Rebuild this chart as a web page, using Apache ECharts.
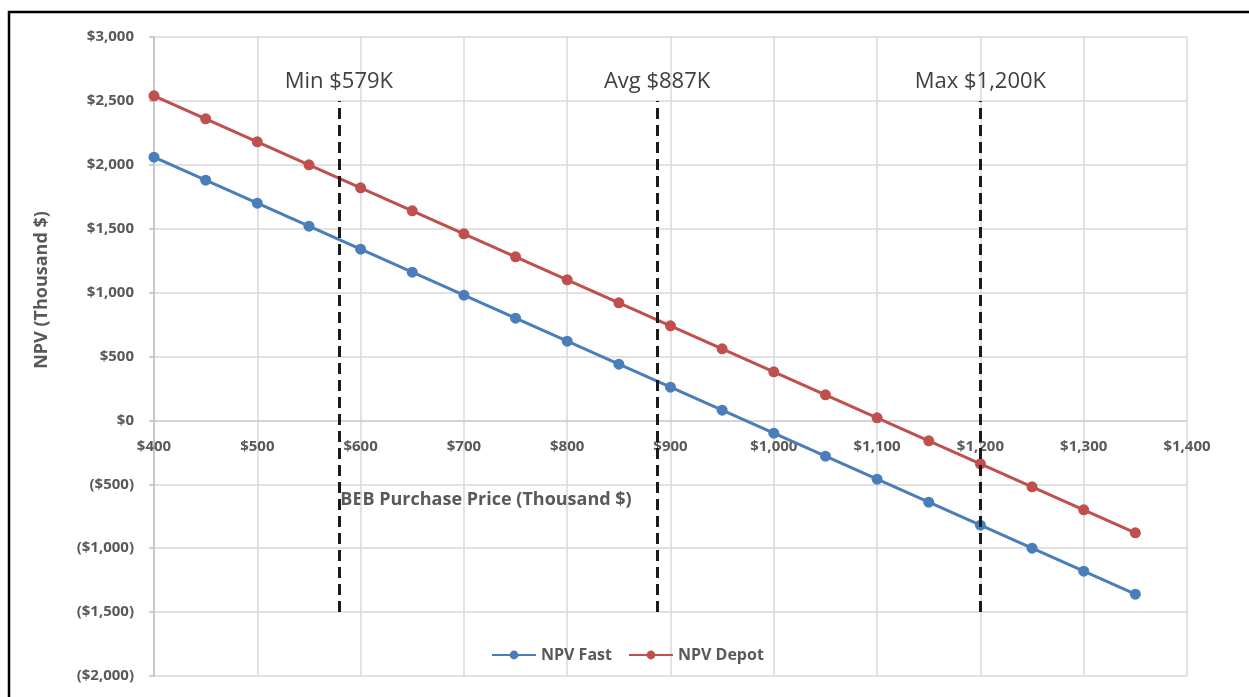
<!DOCTYPE html>
<html>
<head>
<meta charset="utf-8">
<script src="https://cdn.jsdelivr.net/npm/echarts@6/dist/echarts.min.js"></script>
<style>
  html, body { margin: 0; padding: 0; background: #fff; }
  #chart { width: 1249px; height: 697px; }
</style>
</head>
<body>
<div id="chart"></div>
<script>
// Purchase price of the bus, thousand $
const purchasePrice = [400, 450, 500, 550, 600, 650, 700, 750, 800, 850, 900, 950, 1000, 1050, 1100, 1150, 1200, 1250, 1300, 1350];
// Net present value for each charging strategy, thousand $
const npvFast  = [2060, 1880, 1700, 1520, 1340, 1160, 980, 800, 620, 440, 260, 80, -100, -280, -460, -640, -820, -1000, -1180, -1360];
const npvDepot = [2540, 2360, 2180, 2000, 1820, 1640, 1460, 1280, 1100, 920, 740, 560, 380, 200, 20, -160, -340, -520, -700, -880];
// Reference prices marked with vertical dashed lines
const priceMarks = [
  { name: 'Min', price: 579, text: 'Min $579K' },
  { name: 'Avg', price: 887, text: 'Avg $887K' },
  { name: 'Max', price: 1200, text: 'Max $1,200K' }
];
const markSpan = [-1500, 2500];

// Axis ranges
const X_RANGE = [400, 1400, 100];
const Y_RANGE = [-2000, 3000, 500];

const FONT = '"Open Sans", "Liberation Sans", sans-serif';
const GREY = '#595959';

const GRID = { left: 154, right: 62, top: 37, bottom: 21 };
const CHART_H = 697;
// Lift the price axis so it crosses the NPV axis at zero
const plotH = CHART_H - GRID.top - GRID.bottom;
const zeroOffset = -plotH * (0 - Y_RANGE[0]) / (Y_RANGE[1] - Y_RANGE[0]);

function money(v) {
  const s = '$' + Math.abs(v).toLocaleString('en-US');
  return v < 0 ? '(' + s + ')' : s;
}

const chart = echarts.init(document.getElementById('chart'), null, { renderer: 'canvas' });

const markLineData = priceMarks.map(m => [
  { coord: [m.price, markSpan[0]] },
  { coord: [m.price, markSpan[1]], label: { formatter: m.text } }
]);

chart.setOption({
  backgroundColor: '#ffffff',
  animation: false,
  grid: Object.assign({ containLabel: false }, GRID),
  legend: {
    data: ['NPV Fast', 'NPV Depot'],
    left: 486,
    top: 642,
    itemWidth: 44,
    itemHeight: 11,
    itemGap: 16,
    textStyle: { color: GREY, fontFamily: FONT, fontWeight: 'bold', fontSize: 16 }
  },
  xAxis: {
    type: 'value',
    min: X_RANGE[0],
    max: X_RANGE[1],
    interval: X_RANGE[2],
    position: 'bottom',
    offset: zeroOffset,
    axisLine: { show: true, onZero: false, lineStyle: { color: '#d0d0d0', width: 1.5 } },
    axisTick: { show: false },
    axisLabel: {
      margin: 19,
      color: GREY,
      fontFamily: FONT,
      fontWeight: 'bold',
      fontSize: 15,
      formatter: v => money(v)
    },
    splitLine: { show: true, lineStyle: { color: '#d9d9d9', width: 1.5 } }
  },
  yAxis: {
    type: 'value',
    min: Y_RANGE[0],
    max: Y_RANGE[1],
    interval: Y_RANGE[2],
    axisLine: { show: true, onZero: false, lineStyle: { color: '#bfbfbf', width: 1.5 } },
    axisTick: { show: true, length: 5, lineStyle: { color: '#bfbfbf', width: 1.5 } },
    axisLabel: {
      margin: 20,
      color: GREY,
      fontFamily: FONT,
      fontWeight: 'bold',
      fontSize: 15,
      formatter: v => money(v)
    },
    splitLine: { show: true, lineStyle: { color: '#d9d9d9', width: 1.5 } }
  },
  series: [
    {
      name: 'NPV Fast',
      type: 'line',
      data: purchasePrice.map((p, i) => [p, npvFast[i]]),
      symbol: 'circle',
      symbolSize: 11,
      color: '#4a7ebb',
      lineStyle: { width: 3, color: '#4a7ebb' },
      itemStyle: { color: '#4a7ebb' },
      z: 3
    },
    {
      name: 'NPV Depot',
      type: 'line',
      data: purchasePrice.map((p, i) => [p, npvDepot[i]]),
      symbol: 'circle',
      symbolSize: 11,
      color: '#c0504d',
      lineStyle: { width: 3, color: '#c0504d' },
      itemStyle: { color: '#c0504d' },
      z: 3,
      markLine: {
        silent: true,
        symbol: ['none', 'none'],
        lineStyle: { color: '#1a1a1a', width: 3, type: [11, 6] },
        label: {
          show: true,
          position: 'end',
          distance: 8,
          color: '#404040',
          fontFamily: FONT,
          fontSize: 22
        },
        data: markLineData,
        z: 5
      }
    }
  ],
  graphic: [
    {
      type: 'rect',
      shape: { x: 9, y: 12, width: 1400, height: 900 },
      style: { fill: 'none', stroke: '#000', lineWidth: 2.5 },
      silent: true
    },
    {
      type: 'text',
      x: 486,
      y: 500,
      style: {
        text: 'BEB Purchase Price (Thousand $)',
        fill: GREY,
        font: 'bold 18px ' + FONT,
        textAlign: 'center',
        textVerticalAlign: 'middle'
      }
    },
    {
      type: 'text',
      x: 42,
      y: 290,
      rotation: Math.PI / 2,
      style: {
        text: 'NPV (Thousand $)',
        fill: GREY,
        font: 'bold 18px ' + FONT,
        textAlign: 'center',
        textVerticalAlign: 'middle'
      }
    }
  ]
});
</script>
</body>
</html>
